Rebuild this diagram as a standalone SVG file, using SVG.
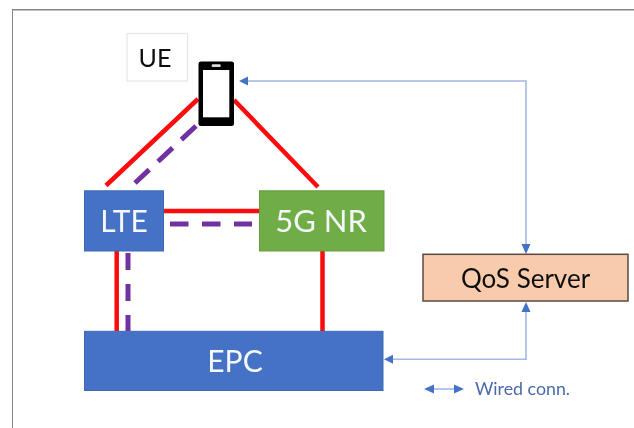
<svg xmlns="http://www.w3.org/2000/svg" width="634" height="428" viewBox="0 0 634 428">
<style>
text{font-family:Lato,"Open Sans","Liberation Sans",sans-serif;text-anchor:middle}
.w{fill:#f4f7fc;font-size:30px}
.red{stroke:#fb0a0f;stroke-width:4.500;fill:none}
.pur{stroke:#7030a0;stroke-width:5;fill:none}
.blue{stroke:#a3b9e2;stroke-width:1.600;fill:none}
.head{fill:#4472c4}
</style>
<defs><filter id="soft" x="0" y="0" width="100%" height="100%"><feGaussianBlur stdDeviation="0.4"/></filter></defs>
<g filter="url(#soft)">
<rect x="12" y="9.500" width="640" height="440" fill="#fff" stroke="#858585" stroke-width="2"/>
<g id="connectors">
<path class="red" d="M106 185.500L198 99M234 100L318 187M163 211H260M116.700 251V331M322.500 250V331"/>
<path class="pur" style="stroke-dasharray:20 12" d="M196 126L135 183"/>
<path class="pur" style="stroke-dasharray:18.500 13.500" d="M170 224H252"/>
<path class="pur" style="stroke-dasharray:17 14" d="M128 253V331"/>
<path class="blue" d="M242 81H526V246M526 310V359.300H392"/>
<path class="blue" d="M432 389H460"/>
<path class="head" d="M239 81l9-4.500v9zM526 254l-4.500-10h9zM526 302l-4.500 10h9zM384 359.300l9-4.500v9zM424 389l10-4.500v9zM464 389l-10-4.500v9z"/>
</g>
<g id="ue">
<rect x="127" y="33.500" width="60.500" height="47.500" fill="#fff" stroke="#e6e6e6" stroke-width="1.200"/>
<text x="155" y="66.500" font-size="25" fill="#111">UE</text>
</g>
<g id="phone">
<rect x="198.500" y="61.500" width="35.500" height="64.500" rx="2.500" fill="#000"/>
<rect x="203" y="70" width="26.300" height="47.300" fill="#fff"/>
<rect x="211.700" y="64.200" width="9" height="2.800" rx="1" fill="#ddd"/>
</g>
<g id="lte">
<rect x="84.500" y="190.800" width="79" height="60.200" fill="#4472c4" stroke="#3f69b5"/>
<text class="w" x="124" y="232">LTE</text>
</g>
<g id="nr">
<rect x="259.500" y="190.800" width="124.500" height="60.200" fill="#70ad47" stroke="#659c40"/>
<text class="w" x="321" y="232" style="font-size:31px">5G NR</text>
</g>
<g id="epc">
<rect x="84.500" y="331.300" width="298.500" height="59.200" fill="#4472c4" stroke="#3f69b5"/>
<text class="w" x="235" y="372">EPC</text>
</g>
<g id="qos">
<rect x="423" y="254.300" width="205" height="46.700" fill="#f8cbad" stroke="#5a4a40" stroke-width="1.500"/>
<text x="525.500" y="288" font-size="26" fill="#111">QoS Server</text>
</g>
<g id="legend">
<text x="522.500" y="395" font-size="17.800" fill="#4a69ad">Wired conn.</text>
</g>
</g>
</svg>
